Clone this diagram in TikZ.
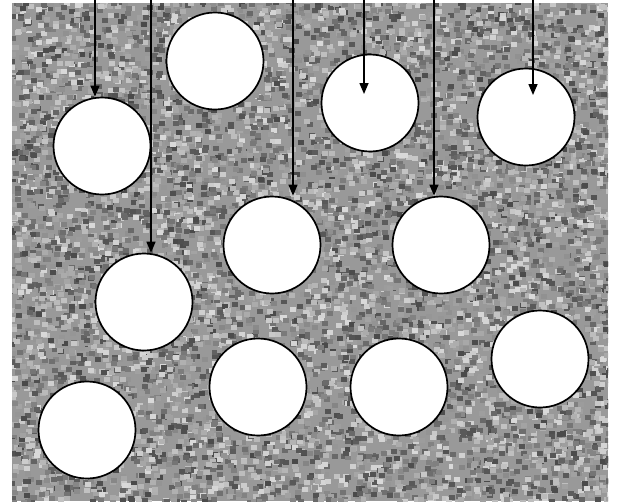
\documentclass[tikz,border=0pt]{standalone}
\usetikzlibrary{arrows.meta}
\begin{document}
\begin{tikzpicture}[x=1pt, y=-1pt,
  pore/.style={circle, draw, line width=1.7pt, fill=white, minimum size=97pt, inner sep=0pt},
  arr/.style={-{Triangle[length=11pt,width=9pt]}, line width=1.5pt}
]
\useasboundingbox (0,0) rectangle (618,501);
% grainy matrix
\fill[black!40] (12,3) rectangle (608,501);
\begin{scope}
\clip (12,3) rectangle (608,501);
\pgfmathsetseed{17}
\foreach \i in {1,...,9000}{
  \pgfmathtruncatemacro{\px}{9+599*rnd}
  \pgfmathtruncatemacro{\py}{0+501*rnd}
  \pgfmathtruncatemacro{\sh}{15+57*rnd}
  \fill[black!\sh] (\px,\py) rectangle ++(6,5);
}
\end{scope}
% pores
\node[pore] (c1)  at (102,146) {};
\node[pore] (c2)  at (215,61)  {};
\node[pore] (c3)  at (370,103) {};
\node[pore] (c4)  at (526,117) {};
\node[pore] (c5)  at (272,245) {};
\node[pore] (c6)  at (441,245) {};
\node[pore] (c7)  at (144,302) {};
\node[pore] (c8)  at (258,387) {};
\node[pore] (c9)  at (399,387) {};
\node[pore] (c10) at (540,359) {};
\node[pore] (c11) at (87,430)  {};
% incoming rays
\coordinate (s1) at (95,0);
\coordinate (s2) at (151,0);
\coordinate (s3) at (293,0);
\coordinate (s4) at (364,0);
\coordinate (s5) at (434,0);
\coordinate (s6) at (533,0);
\coordinate (t4) at (364,94);
\coordinate (t6) at (533,95);
\draw[arr] (s1) -- (s1 |- c1.north);
\draw[arr] (s2) -- (s2 |- c7.north);
\draw[arr] (s3) -- (s3 |- c5.north);
\draw[arr] (s4) -- (t4);
\draw[arr] (s5) -- (s5 |- c6.north);
\draw[arr] (s6) -- (t6);
\end{tikzpicture}
\end{document}
